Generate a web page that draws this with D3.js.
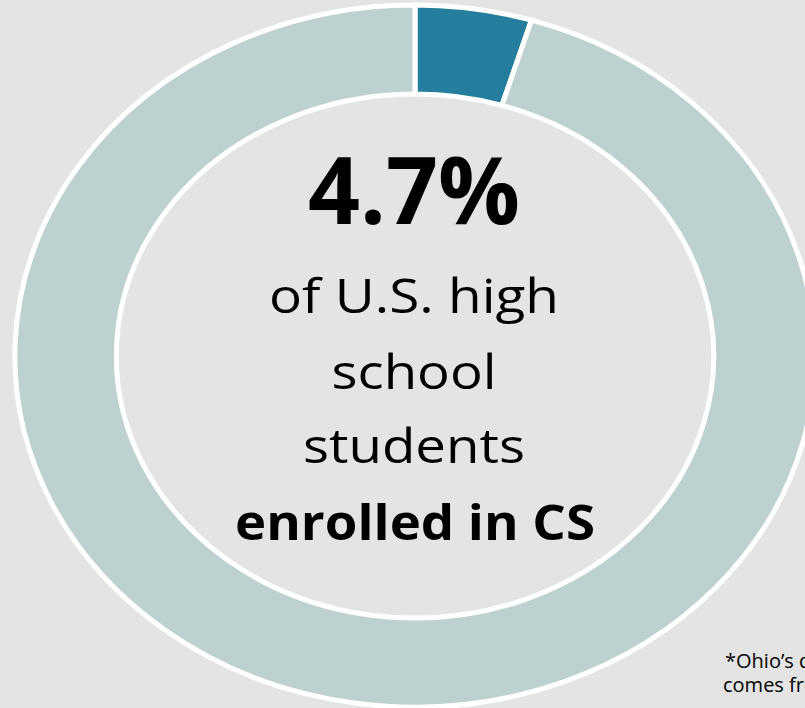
<!DOCTYPE html>
<html>
<head>
<meta charset="utf-8">
<script src="https://cdn.jsdelivr.net/npm/d3@7"></script>
<style>
  html, body { margin: 0; padding: 0; background: #e4e4e4; overflow: hidden; }
  svg { display: block; }
</style>
</head>
<body>
<svg id="chart" width="805" height="708"></svg>
<script>
// Share of U.S. high school students enrolled in computer science
const categories = ["Enrolled in CS", "Not enrolled in CS"];
const values = [4.7, 95.3];
const colors = ["#267e9e", "#bcd1d0"];

// Centre caption lines
const headline = "4.7%";
const captionLines = ["of U.S. high", "school", "students"];
const captionBold = "enrolled in CS";
const footnoteLines = ["*Ohio\u2019s data", "comes from"];

const W = 805, H = 708;
const cx = 415, cy = 356;
const stretchX = 1.14;           // ring is drawn wider than tall
const outerR = 351, innerR = 262;

const svg = d3.select("#chart");

svg.append("rect")
  .attr("width", W).attr("height", H)
  .attr("fill", "#e4e4e4");

const pie = d3.pie().sort(null).value(d => d)(values);
const arc = d3.arc().innerRadius(innerR).outerRadius(outerR);

svg.append("g")
  .attr("transform", `translate(${cx},${cy}) scale(${stretchX},1)`)
  .selectAll("path")
  .data(pie)
  .join("path")
  .attr("d", arc)
  .attr("fill", (d, i) => colors[i])
  .attr("stroke", "#ffffff")
  .attr("stroke-width", 5)
  .attr("vector-effect", "non-scaling-stroke");

const font = "'Open Sans', Lato, sans-serif";
const tx = 414;

function fitLine(sel, width) {
  sel.attr("textLength", width).attr("lengthAdjust", "spacingAndGlyphs");
}

svg.append("text")
  .attr("x", tx).attr("y", 224)
  .attr("text-anchor", "middle")
  .attr("font-family", font)
  .attr("font-weight", 700)
  .attr("font-size", 93)
  .attr("fill", "#000")
  .text(headline)
  .call(fitLine, 212);

const captionY = [313, 389, 463];
const captionW = [290, 165, 222];
captionLines.forEach((t, i) => {
  svg.append("text")
    .attr("x", tx).attr("y", captionY[i])
    .attr("text-anchor", "middle")
    .attr("font-family", font)
    .attr("font-size", 48)
    .attr("fill", "#000")
    .text(t)
    .call(fitLine, captionW[i]);
});

svg.append("text")
  .attr("x", tx + 1).attr("y", 540)
  .attr("text-anchor", "middle")
  .attr("font-family", font)
  .attr("font-weight", 700)
  .attr("font-size", 48)
  .attr("fill", "#000")
  .text(captionBold)
  .call(fitLine, 360);

footnoteLines.forEach((t, i) => {
  svg.append("text")
    .attr("x", i === 0 ? 725 : 723).attr("y", 668 + i * 24)
    .attr("font-family", font)
    .attr("font-size", 20)
    .attr("fill", "#000")
    .text(t);
});
</script>
</body>
</html>
